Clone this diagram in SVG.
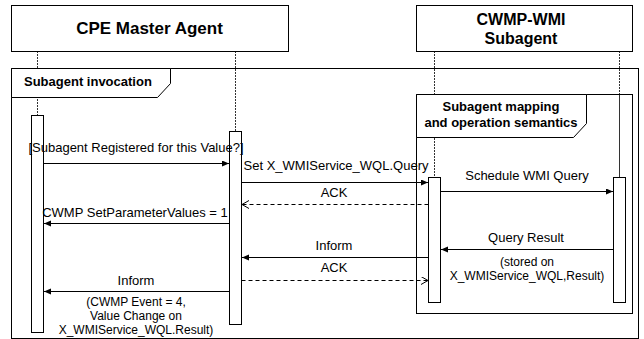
<svg xmlns="http://www.w3.org/2000/svg" width="644" height="339" viewBox="0 0 644 339">
<defs>
<style>
.box{fill:#fff;stroke:#000;stroke-width:1}
.frame{fill:none;stroke:#000;stroke-width:1}
.tab{fill:#fff;stroke:#000;stroke-width:1}
.life{stroke:#333;stroke-width:1;stroke-dasharray:2 1;fill:none}
.act{fill:#fff;stroke:#000;stroke-width:1}
.msg{stroke:#000;stroke-width:1;fill:none}
.ret{stroke:#000;stroke-width:1;fill:none;stroke-dasharray:4 3}
.title{font-family:"Liberation Sans",Arial,sans-serif;font-size:17px;font-weight:bold;text-anchor:middle;fill:#000}
.title2{font-family:"Liberation Sans",Arial,sans-serif;font-size:16px;font-weight:bold;text-anchor:middle;fill:#000}
.ftitle{font-family:"Liberation Sans",Arial,sans-serif;font-size:13px;font-weight:bold;fill:#000}
.lbl{font-family:"Liberation Sans",Arial,sans-serif;font-size:13px;text-anchor:middle;fill:#000}
.note{font-family:"Liberation Sans",Arial,sans-serif;font-size:12px;text-anchor:middle;fill:#000}
</style>
<marker id="filled" markerWidth="8" markerHeight="8" refX="7" refY="3" orient="auto" markerUnits="userSpaceOnUse">
<path d="M0,0 L7,3 L0,6 z" fill="#000"/>
</marker>
<marker id="open" markerWidth="10" markerHeight="10" refX="7" refY="4" orient="auto" markerUnits="userSpaceOnUse">
<path d="M0,0 L7,4 L0,8" fill="none" stroke="#000" stroke-width="1"/>
</marker>
</defs>
<rect width="644" height="339" fill="#fff"/>

<g id="lifelines">
<line class="life" x1="37.5" y1="51" x2="37.5" y2="115"/>
<line class="life" x1="235.5" y1="51" x2="235.5" y2="131"/>
<line class="life" x1="434.5" y1="51" x2="434.5" y2="177"/>
<line class="life" x1="619.5" y1="51" x2="619.5" y2="177"/>
</g>

<g id="frame-invocation">
<rect class="frame" x="11.5" y="68.5" width="627" height="270"/>
<path class="tab" d="M11.5,68.5 H170.5 V83.5 L157.5,97.5 H11.5 Z"/>
<text class="ftitle" x="24" y="86">Subagent invocation</text>
</g>

<g id="frame-mapping">
<rect class="frame" x="416.5" y="94.5" width="216" height="219"/>
<path class="tab" d="M416.5,94.5 H586.5 V123.5 L573.5,137.5 H416.5 Z"/>
<text class="ftitle" x="501" y="111" text-anchor="middle">Subagent mapping</text>
<text class="ftitle" x="501" y="127" text-anchor="middle">and operation semantics</text>
<line class="life" x1="434.5" y1="138" x2="434.5" y2="177"/>
<line class="life" x1="619.5" y1="95" x2="619.5" y2="177"/>
</g>

<g id="cpe-master-agent">
<rect class="box" x="11.5" y="5.5" width="277" height="46"/>
<text class="title" x="149.5" y="34">CPE Master Agent</text>
</g>

<g id="cwmp-wmi-subagent">
<rect class="box" x="416.5" y="5.5" width="216" height="46"/>
<text class="title2" x="521" y="25">CWMP-WMI</text>
<text class="title2" x="521" y="44">Subagent</text>
</g>

<g id="activations">
<rect class="act" x="31.5" y="115.5" width="12" height="217"/>
<rect class="act" x="229.5" y="131.5" width="12" height="193"/>
<rect class="act" x="428.5" y="177.5" width="12" height="125"/>
<rect class="act" x="613.5" y="177.5" width="12" height="125"/>
</g>

<g id="connectors">
<line class="msg" x1="43.5" y1="163.5" x2="229" y2="163.5" marker-end="url(#filled)"/>
<line class="msg" x1="241.5" y1="182.5" x2="428" y2="182.5" marker-end="url(#filled)"/>
<line class="ret" x1="428.5" y1="204.5" x2="242" y2="204.5" marker-end="url(#open)"/>
<line class="msg" x1="440.5" y1="191.5" x2="613" y2="191.5" marker-end="url(#filled)"/>
<line class="msg" x1="229.5" y1="223.5" x2="44" y2="223.5" marker-end="url(#filled)"/>
<line class="msg" x1="613.5" y1="249.5" x2="441" y2="249.5" marker-end="url(#filled)"/>
<line class="msg" x1="428.5" y1="257.5" x2="242" y2="257.5" marker-end="url(#filled)"/>
<line class="ret" x1="241.5" y1="280.5" x2="428" y2="280.5" marker-end="url(#open)"/>
<line class="msg" x1="229.5" y1="291.5" x2="44" y2="291.5" marker-end="url(#filled)"/>
</g>

<g id="labels">
<text class="lbl" x="136" y="152">[Subagent Registered for this Value?]</text>
<text class="lbl" x="336" y="170">Set X_WMIService_WQL.Query</text>
<text class="lbl" x="334" y="197">ACK</text>
<text class="lbl" x="527" y="180">Schedule WMI Query</text>
<text class="lbl" x="135" y="217">CWMP SetParameterValues = 1</text>
<text class="lbl" x="526" y="242">Query Result</text>
<text class="note" x="527" y="266">(stored on</text>
<text class="note" x="527" y="280">X_WMIService_WQL,Result)</text>
<text class="lbl" x="334" y="250">Inform</text>
<text class="lbl" x="334" y="272">ACK</text>
<text class="lbl" x="136" y="285">Inform</text>
<text class="note" x="136" y="306">(CWMP Event = 4,</text>
<text class="note" x="136" y="320">Value Change on</text>
<text class="note" x="136" y="334">X_WMIService_WQL.Result)</text>
</g>
</svg>
